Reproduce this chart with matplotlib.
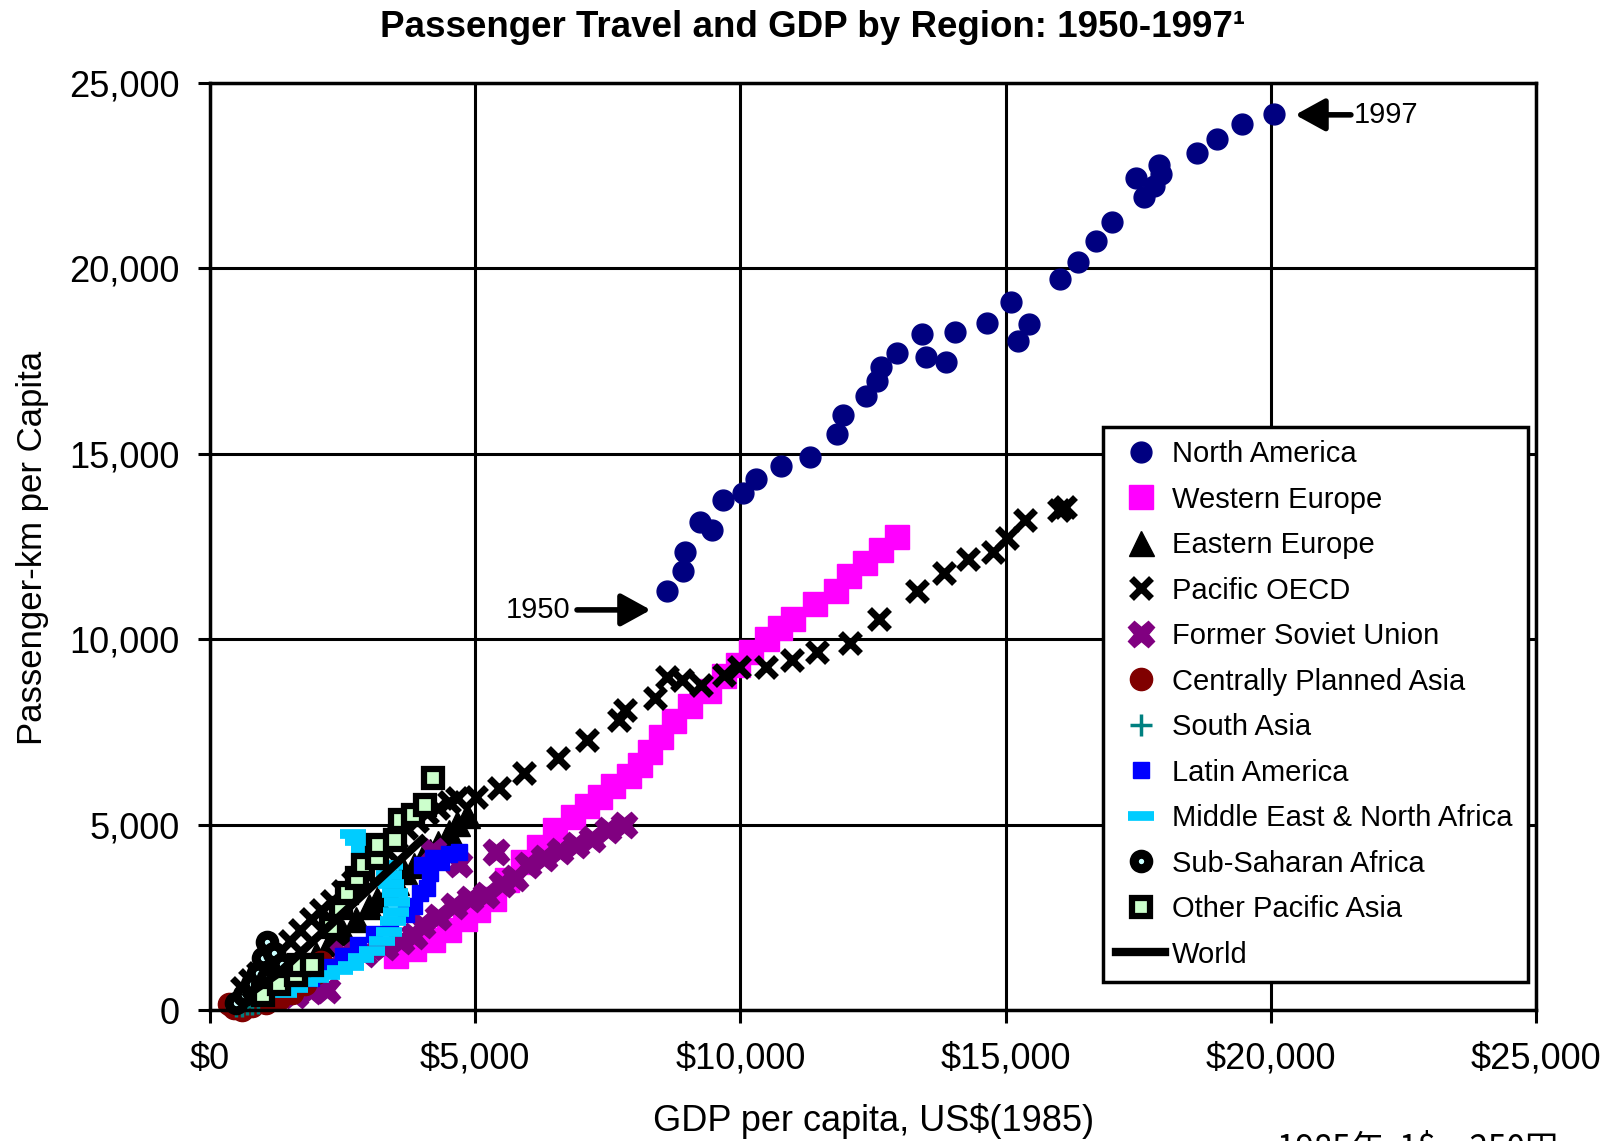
import matplotlib
matplotlib.use('Agg')
import matplotlib.pyplot as plt

plt.rcParams['font.family'] = ['Liberation Sans', 'DejaVu Sans']

# ---- data (GDP per capita US$1985, passenger-km per capita) ----
na_x = [8610, 8910, 8950, 9240, 9460, 9670, 10050, 10290, 10760, 11310, 11820, 11940,
        12360, 12580, 12660, 12950, 13420, 13500, 13880, 14050, 14640, 15100, 15230,
        15440, 16030, 16370, 16700, 17000, 17460, 17600, 17800, 17930, 17890, 18600,
        18990, 19450, 20060]
na_y = [11310, 11840, 12360, 13170, 12940, 13750, 13940, 14320, 14660, 14900, 15520, 16050,
        16570, 16960, 17340, 17720, 18240, 17620, 17480, 18290, 18530, 19100, 18050,
        18490, 19720, 20160, 20740, 21260, 22450, 21930, 22220, 22550, 22790, 23120,
        23500, 23880, 24170]

we_x = [3500, 3850, 4200, 4500, 4800, 5050, 5350, 5600, 5900, 6200, 6500, 6850, 7100, 7350,
        7600, 7900, 8100, 8300, 8500, 8750, 9050, 9400, 9700, 9950, 10200, 10500, 10750,
        11000, 11400, 11800, 12050, 12350, 12650, 12950]
we_y = [1450, 1650, 1900, 2150, 2450, 2700, 3000, 3500, 4000, 4400, 4850, 5200, 5500, 5750,
        6050, 6300, 6600, 6950, 7350, 7800, 8200, 8600, 9000, 9300, 9650, 10000, 10300,
        10550, 10950, 11300, 11700, 12050, 12400, 12750]

ee_x = [500, 650, 800, 950, 1100, 1250, 1400, 1550, 1750, 2000, 2250, 2500, 2750, 3000,
        3150, 3350, 3500, 3650, 3850, 4000, 4150, 4300, 4500, 4650, 4850]
ee_y = [250, 350, 450, 550, 700, 850, 950, 1100, 1300, 1500, 1800, 2100, 2450, 2800,
        3000, 3200, 3450, 3750, 3900, 4100, 4300, 4500, 4800, 5050, 5250]

po_x = [600, 750, 900, 1100, 1300, 1500, 1700, 1900, 2100, 2300, 2500, 2700, 2900, 3100,
        3300, 3500, 3700, 3900, 4100, 4300, 4500, 4660, 5010, 5450, 5920, 6560, 7100,
        7710, 7820, 8390, 8610, 8900, 9260, 9690, 9970, 10480, 10980, 11450, 12060,
        12610, 13330, 13840, 14300, 14760, 15020, 15360, 16000, 16120]
po_y = [600, 800, 1000, 1300, 1550, 1850, 2150, 2450, 2700, 2950, 3200, 3450, 3750, 4050,
        4350, 4650, 4900, 5100, 5300, 5450, 5600, 5720, 5750, 5980, 6380, 6790, 7280,
        7820, 8090, 8410, 8990, 8900, 8760, 9030, 9260, 9260, 9440, 9660, 9890,
        10540, 11310, 11780, 12170, 12360, 12740, 13220, 13480, 13560]

fsu_x = [1600, 1900, 2200, 2500, 2900, 3300, 3600, 3850, 4000, 4300, 4600, 4900, 5200, 5500,
         5750, 6000, 6300, 6600, 6900, 7200, 7500, 7800, 5400, 4200, 4700]
fsu_y = [400, 500, 550, 1500, 1500, 1700, 1850, 2000, 2300, 2500, 2800, 3000, 3100, 3400,
         3550, 3900, 4100, 4300, 4450, 4600, 4850, 5000, 4250, 4300, 3950]

cpa_x = [350, 450, 600, 800, 1050, 1300, 1550, 1800, 2000, 2100]
cpa_y = [150, 50, 0, 100, 200, 300, 450, 700, 1000, 1300]

sa_x = [500, 600, 700, 800, 900]
sa_y = [100, 120, 150, 150, 200]

la_x = [1900, 2200, 2500, 2800, 3100, 3400, 3700, 3850, 3960, 4090, 4150, 4000, 4200, 4350,
        4500, 4700]
la_y = [850, 1150, 1450, 1750, 2050, 2300, 2600, 2800, 3150, 3300, 3700, 3900, 4100, 4000,
        4200, 4250]

me_x = [1400, 1600, 1800, 2000, 2200, 2450, 2650, 2850, 3050, 3250, 3380, 3450, 3500, 3520,
        3480, 3420, 3380, 3400, 2900, 2800, 2700]
me_y = [450, 600, 750, 850, 950, 1080, 1200, 1400, 1600, 1850, 2100, 2400, 2650, 2900,
        3150, 3400, 3650, 3900, 4350, 4550, 4750]

ssa_x = [500, 650, 800, 900, 1000, 1080, 1200, 1350, 1100]
ssa_y = [200, 400, 700, 1000, 1400, 1830, 1550, 1250, 850]

opa_x = [1000, 1300, 1630, 1670, 1920, 2290, 2480, 2580, 2770, 2890, 3140, 3170, 3490, 3580,
         3830, 4050, 4210]
opa_y = [400, 700, 940, 1210, 1210, 2250, 2740, 3150, 3550, 3910, 4090, 4450, 4580, 5120,
         5260, 5530, 6250]

world_x = [700, 1000, 1300, 1600, 1900, 2200, 2500, 2800, 3100, 3400, 3700, 4000]
world_y = [400, 700, 1000, 1400, 1800, 2200, 2600, 3000, 3400, 3800, 4200, 4600]

ticks = [0, 5000, 10000, 15000, 20000, 25000]
x_labels = ['$0', '$5,000', '$10,000', '$15,000', '$20,000', '$25,000']
y_labels = ['0', '5,000', '10,000', '15,000', '20,000', '25,000']

fig = plt.figure(figsize=(16.15, 11.41), dpi=100)
ax = fig.add_axes([0.1300, 0.1148, 0.8211, 0.8125])

def pts(x, y, label, **kw):
    ax.plot(x, y, linestyle='none', label=label, clip_on=False, **kw)

pts(na_x, na_y, 'North America', marker='o', ms=15, color='#000080', mec='#000080')
pts(we_x, we_y, 'Western Europe', marker='s', ms=17, color='#FF00FF', mec='#FF00FF')
pts(ee_x, ee_y, 'Eastern Europe', marker='^', ms=18, color='black', mec='black')
pts(po_x, po_y, 'Pacific OECD', marker='x', ms=15, mew=5, color='black')
pts(fsu_x, fsu_y, 'Former Soviet Union', marker='X', ms=19, color='#800080', mec='#800080')
pts(cpa_x, cpa_y, 'Centrally Planned Asia', marker='o', ms=16, color='#800000', mec='#800000')
pts(sa_x, sa_y, 'South Asia', marker='+', ms=16, mew=2.5, color='#008080')
pts(la_x, la_y, 'Latin America', marker='s', ms=11, color='#0000FF', mec='#0000FF')
pts(me_x, me_y, 'Middle East & North Africa', marker='_', ms=19, mew=7, color='#00CCFF')
pts(ssa_x, ssa_y, 'Sub-Saharan Africa', marker='o', ms=10.5, mew=6.5, mfc='#CCFFFF', mec='black')
pts(opa_x, opa_y, 'Other Pacific Asia', marker='s', ms=13, mew=4.5, mfc='#CCFFCC', mec='black')
ax.plot(world_x, world_y, color='black', lw=6, label='World')

ax.set_xlim(0, 25000)
ax.set_ylim(0, 25000)
ax.set_xticks(ticks)
ax.set_yticks(ticks)
ax.set_xticklabels(x_labels)
ax.set_yticklabels(y_labels)
ax.tick_params(direction='out', length=9, width=2.2, labelsize=26, color='black')
ax.tick_params(axis='x', pad=14)
ax.tick_params(axis='y', pad=13)
ax.grid(True, color='black', lw=2.2)
ax.set_axisbelow(True)
for s in ax.spines.values():
    s.set_linewidth(2.5)

# year annotations
arrow = dict(arrowstyle='-|>,head_length=0.6,head_width=0.33', color='black', lw=4,
             mutation_scale=30, shrinkA=0, shrinkB=0)
ax.annotate('', xy=(8310, 10790), xytext=(6920, 10790), arrowprops=arrow)
ax.text(6790, 10790, '1950', ha='right', va='center', fontsize=21)
ax.annotate('', xy=(20460, 24140), xytext=(21510, 24140), arrowprops=arrow, annotation_clip=False)
ax.text(21570, 24140, '1997', ha='left', va='center', fontsize=21)

leg = ax.legend(loc='upper left', bbox_to_anchor=(0.6735, 0.030, 0.3205, 0.599),
                mode='expand', borderaxespad=0, fontsize=21, frameon=True,
                fancybox=False, framealpha=1, edgecolor='black', handlelength=1.67,
                handletextpad=0.25, labelspacing=0.6, borderpad=0.45, numpoints=1)
leg.get_frame().set_linewidth(2.5)
leg.set_zorder(10)

fig.text(0.503, 0.9755, 'Passenger Travel and GDP by Region: 1950-1997\u00b9',
         ha='center', va='center', fontsize=26.5, fontweight='bold')
fig.text(0.541, 1 - 1121 / 1141, 'GDP per capita, US$(1985)', ha='center', va='center',
         fontsize=26)
fig.text(0.0204, 1 - 548 / 1141, 'Passenger-km per Capita', ha='center', va='center',
         rotation=90, fontsize=25)
# footnote sits partly below the bottom edge, as in the original page crop
fig.text(0.791, -0.016, '1985年  1$ = 250円', ha='left', va='baseline', fontsize=24,
         family=['Noto Sans CJK JP', 'DejaVu Sans'])

fig.savefig('out.png', dpi=100)
